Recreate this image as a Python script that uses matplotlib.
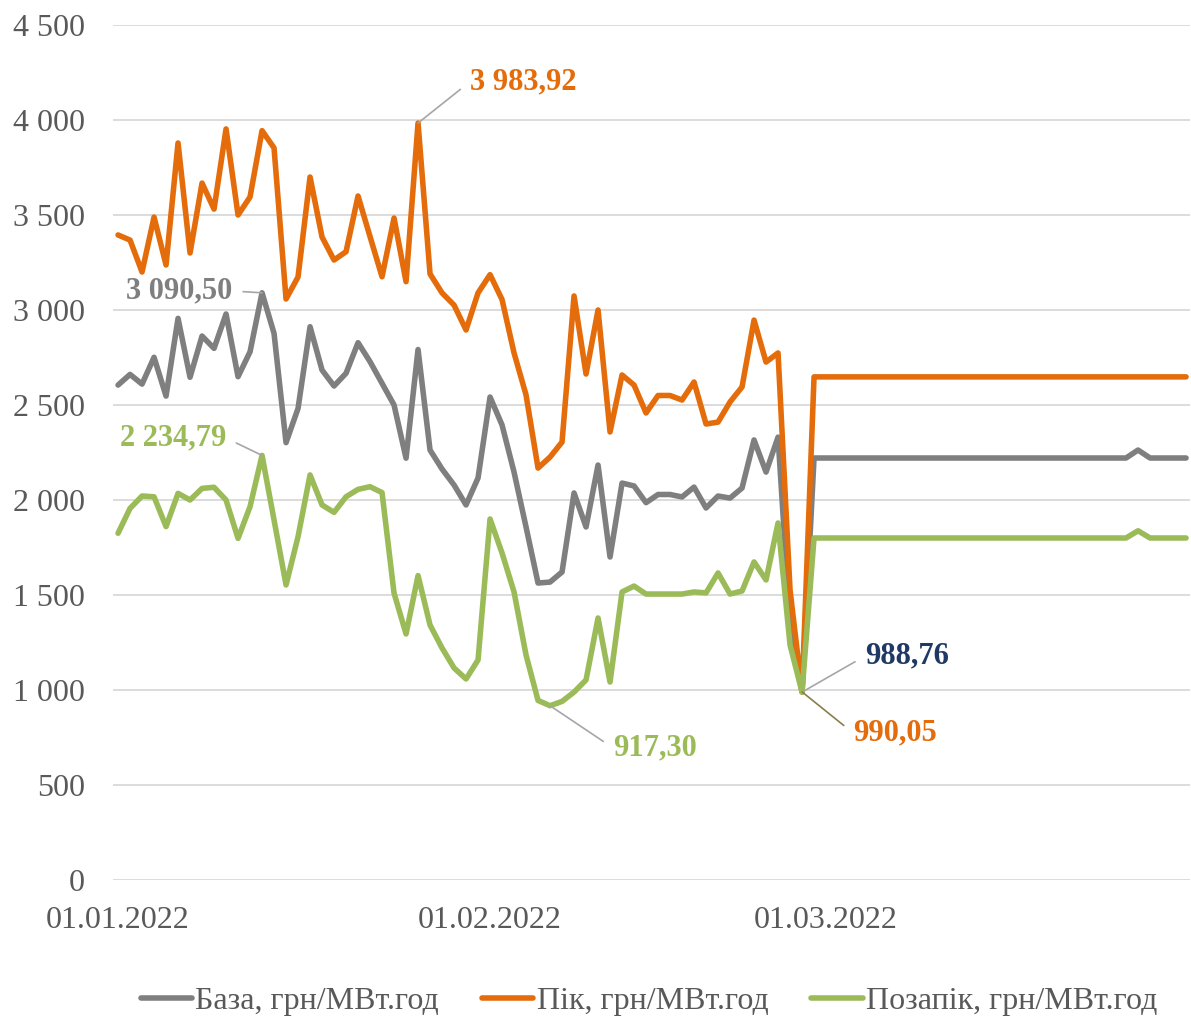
import matplotlib
matplotlib.use("Agg")
import matplotlib.pyplot as plt
from matplotlib.lines import Line2D

plt.rcParams["font.family"] = ["Liberation Serif", "DejaVu Serif"]

# ------------------------------------------------------------------
# DATA (daily values, 01.01.2022 - 31.03.2022)
# ------------------------------------------------------------------

base = [
    2605, 2661, 2610, 2751, 2547, 2956, 2646, 2863, 2798, 2979,
    2649, 2780, 3090.50, 2877, 2302, 2482, 2912, 2684, 2600, 2667,
    2828, 2728, 2614, 2500, 2220, 2792, 2263, 2163, 2079, 1974,
    2116, 2542, 2395, 2147, 1858, 1563, 1568, 1621, 2037, 1858,
    2184, 1700, 2089, 2074, 1986, 2029, 2029, 2016, 2068, 1958,
    2021, 2010, 2063, 2316, 2147, 2331, 1350, 989.5,
] + [2221] * 27 + [2263] + [2221] * 4

peak = [
    3395, 3368, 3200, 3489, 3237, 3879, 3300, 3668, 3531, 3953,
    3500, 3595, 3944, 3853, 3058, 3174, 3700, 3384, 3263, 3307,
    3600, 3386, 3175, 3484, 3149, 3983.92, 3190, 3090, 3026, 2895,
    3090, 3186, 3055, 2774, 2553, 2168, 2226, 2305, 3074, 2663,
    3000, 2358, 2658, 2605, 2458, 2550, 2550, 2526, 2621, 2400,
    2410, 2516, 2595, 2947, 2726, 2774, 1526, 990.05,
] + [2648] * 32

offpeak = [
    1825, 1956, 2021, 2017, 1860, 2035, 2000, 2061, 2067, 2000,
    1798, 1965, 2234.79, 1895, 1553, 1807, 2132, 1974, 1935, 2017,
    2056, 2070, 2039, 1510, 1295, 1602, 1342, 1221, 1116, 1058,
    1158, 1900, 1721, 1516, 1184, 945, 917.30, 940, 989, 1053,
    1379, 1042, 1516, 1547, 1505, 1505, 1505, 1505, 1516, 1511,
    1616, 1505, 1521, 1674, 1579, 1879, 1237, 988.76,
] + [1800] * 27 + [1838] + [1800] * 4

days = list(range(len(base)))

tick_pos = [0, 31, 59]
tick_labels = ["01.01.2022", "01.02.2022", "01.03.2022"]

series_names = ["База, грн/МВт.год", "Пік, грн/МВт.год", "Позапік, грн/МВт.год"]
colors = ["#7F7F7F", "#E46C0A", "#9BBB59"]

# ------------------------------------------------------------------
# PLOT
# ------------------------------------------------------------------

fig = plt.figure(figsize=(11.91, 10.22), dpi=100)
ax = fig.add_axes([113 / 1191, 1 - 880 / 1022, 1077 / 1191, 855 / 1022])

for values, color in zip([base, peak, offpeak], colors):
    ax.plot(days, values, color=color, linewidth=4.0,
            solid_joinstyle="round", solid_capstyle="round", zorder=3)

ax.set_ylim(0, 4500)
ax.set_xlim(-0.42, 89.33)
ax.set_yticks(range(0, 4501, 500))
ax.set_yticklabels([f"{v:,}".replace(",", " ") for v in range(0, 4501, 500)])
ax.set_xticks(tick_pos)
ax.set_xticklabels(tick_labels)

ax.grid(axis="y", color="#D9D9D9", linewidth=1.3)
ax.set_axisbelow(True)
for spine in ax.spines.values():
    spine.set_visible(False)

ax.tick_params(axis="both", length=0, labelsize=23, labelcolor="#595959")
ax.tick_params(axis="y", pad=20)
ax.tick_params(axis="x", pad=19)

# ------------------------------------------------------------------
# DATA LABELS
# ------------------------------------------------------------------

labels = [
    (25, peak[25], "3 983,92", 29.3, 4200, "left", "#E46C0A", "#A6A6A6"),
    (12, base[12], "3 090,50", 9.5, 3100, "right", "#7F7F7F", "#A6A6A6"),
    (12, offpeak[12], "2 234,79", 9.0, 2326, "right", "#9BBB59", "#A6A6A6"),
    (36, offpeak[36], "917,30", 41.25, 695, "left", "#9BBB59", "#A6A6A6"),
    (57, offpeak[57], "988,76", 62.25, 1179, "left", "#1F3864", "#A6A6A6"),
    (57, peak[57], "990,05", 61.25, 774, "left", "#E46C0A", "#8B7D4B"),
]

for x, y, text, tx, ty, ha, tcolor, lcolor in labels:
    ax.annotate(
        text,
        xy=(x, y),
        xytext=(tx, ty),
        ha=ha,
        va="center",
        fontsize=22,
        fontweight="bold",
        color=tcolor,
        zorder=5,
        arrowprops=dict(
            arrowstyle="-",
            color=lcolor,
            linewidth=1.2,
            shrinkA=6,
            shrinkB=0,
            relpos=(0, 0.5) if ha == "left" else (1, 0.5),
        ),
    )

# ------------------------------------------------------------------
# LEGEND
# ------------------------------------------------------------------

handles = [Line2D([0], [0], color=c, linewidth=4.0, solid_capstyle="round")
           for c in colors]

fig.legend(
    handles,
    series_names,
    loc="center",
    bbox_to_anchor=(0.545, 0.02),
    ncol=3,
    frameon=False,
    fontsize=23,
    labelcolor="#595959",
    handlelength=1.6,
    handletextpad=0.1,
    columnspacing=1.35,
)

fig.savefig("out.png", dpi=100)
